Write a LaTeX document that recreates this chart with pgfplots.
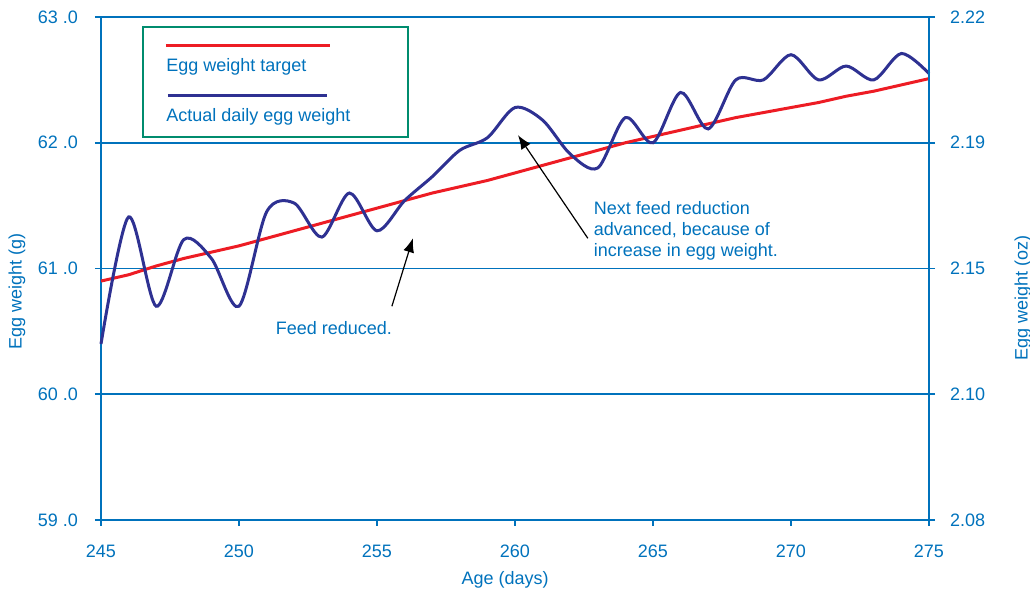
\documentclass[border=0pt]{standalone}
\usepackage{fontspec}
\setmainfont{Liberation Sans}
\usepackage{pgfplots}
\pgfplotsset{compat=1.18}
\usetikzlibrary{arrows.meta}
\definecolor{tblue}{RGB}{0,114,188}
\definecolor{navy}{RGB}{46,49,146}
\definecolor{tred}{RGB}{237,28,36}
\definecolor{lgreen}{RGB}{0,140,110}
\begin{document}
\begin{tikzpicture}[font=\fontsize{9}{11}\selectfont]
\useasboundingbox (-50.5pt,-36.5pt) rectangle (464.5pt,260pt);
\begin{axis}[
  at={(0,0)}, anchor=south west,
  scale only axis, width=414pt, height=251.5pt,
  xmin=245, xmax=275, ymin=59, ymax=63,
  axis line style={tblue, line width=0.8pt},
  tick style={tblue, line width=0.8pt},
  tick align=outside, major tick length=3pt,
  tick pos=left,
  xtick={245,250,...,275},
  xticklabels={245,250,255,260,265,270,275},
  ytick={59,60,61,62,63},
  yticklabels={59 .0,60 .0,61 .0,62 .0,63 .0},
  ymajorgrids, grid style={tblue, line width=0.8pt},
  ticklabel style={text=tblue},
  xticklabel style={yshift=-6pt},
  yticklabel style={xshift=-5pt},
  xlabel={Age (days)}, ylabel={Egg weight (g)},
  label style={text=tblue},
  xlabel style={at={(axis description cs:0.488,0)}, anchor=center, yshift=-30pt},
  ylabel style={at={(axis description cs:-0.1014,0.455)}, anchor=center},
  clip=false,
]
\addplot[tred, line width=1.5pt] coordinates {
(245,60.90) (246,60.95) (247,61.02) (248,61.08) (249,61.13) (250,61.18)
(251,61.24) (252,61.30) (253,61.36) (254,61.42) (255,61.48) (256,61.54)
(257,61.60) (258,61.65) (259,61.70) (260,61.76) (261,61.82) (262,61.88)
(263,61.94) (264,62.00) (265,62.05) (266,62.10) (267,62.15) (268,62.20)
(269,62.24) (270,62.28) (271,62.32) (272,62.37) (273,62.41) (274,62.46)
(275,62.51)};
\addplot[navy, line width=1.5pt, smooth] coordinates {
(245,60.40) (246,61.41) (247,60.70) (248,61.23) (249,61.08) (250,60.70)
(251,61.45) (252,61.52) (253,61.25) (254,61.60) (255,61.30) (256,61.54)
(257,61.73) (258,61.94) (259,62.04) (260,62.28) (261,62.18) (262,61.91)
(263,61.80) (264,62.20) (265,62.00) (266,62.40) (267,62.11) (268,62.50)
(269,62.50) (270,62.70) (271,62.50) (272,62.61) (273,62.50) (274,62.71)
(275,62.55)};
\draw[-{Latex[length=7pt,width=5.5pt]}, black, line width=0.6pt] (axis cs:255.54,60.70) -- (axis cs:256.3,61.24);
\draw[-{Latex[length=7pt,width=5.5pt]}, black, line width=0.6pt] (axis cs:262.64,61.24) -- (axis cs:260.11,62.06);
\node[text=tblue, anchor=center] at (axis cs:253.44,60.53) {Feed reduced.};
\node[text=tblue, anchor=north west, align=left, inner sep=0pt, font=\fontsize{9}{10.5}\selectfont] at (axis cs:262.84,61.536) {Next feed reduction\\advanced, because of\\increase in egg weight.};
\end{axis}
\begin{axis}[
  at={(0,0)}, anchor=south west,
  scale only axis, width=414pt, height=251.5pt,
  xmin=245, xmax=275, ymin=59, ymax=63,
  axis x line=none, axis y line*=right,
  axis line style={tblue, line width=0.8pt, -},
  tick style={tblue, line width=0.8pt},
  tick align=outside, major tick length=3pt,
  ytick={59,60,61,62,63},
  yticklabels={2.08,2.10,2.15,2.19,2.22},
  ticklabel style={text=tblue},
  yticklabel style={xshift=4pt},
  ylabel={Egg weight (oz)},
  label style={text=tblue},
  ylabel style={at={(axis description cs:1.1135,0.441)}, anchor=center},
]
\end{axis}
% legend
\draw[lgreen, line width=0.6pt] (21pt,191.5pt) rectangle (153.5pt,246.5pt);
\draw[tred, line width=1.5pt] (32.5pt,237pt) -- (114.5pt,237pt);
\node[text=tblue, anchor=west, inner sep=0pt] at (32.5pt,226.5pt) {Egg weight target};
\draw[navy, line width=1.5pt] (33.5pt,212pt) -- (113pt,212pt);
\node[text=tblue, anchor=west, inner sep=0pt] at (32.5pt,201.5pt) {Actual daily egg weight};
\end{tikzpicture}
\end{document}
